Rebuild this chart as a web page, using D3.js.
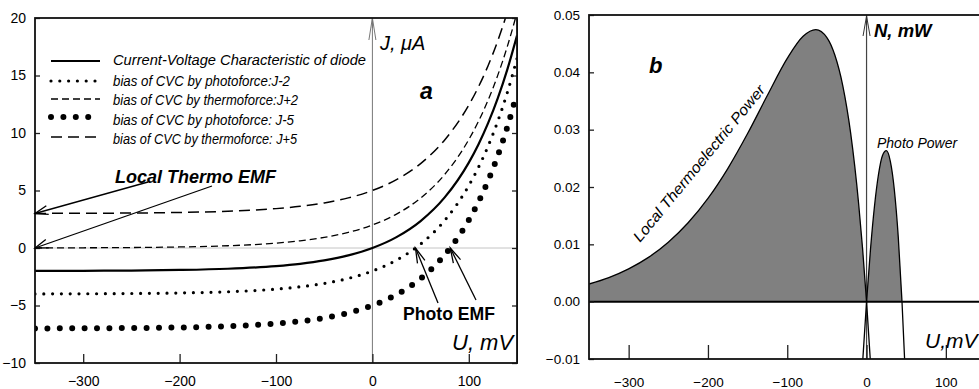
<!DOCTYPE html>
<html>
<head>
<meta charset="utf-8">
<script src="https://cdn.jsdelivr.net/npm/d3@7"></script>
<style>
body { margin: 0; background: #fff; }
svg text { font-family: "Liberation Sans", Arial, sans-serif; }
</style>
</head>
<body>
<div id="canvas"></div>
<script>
// panel a: current-voltage curves (U in mV, J in uA)
const uVolt = [-350, -300, -250, -200, -150, -100, -75, -50, -25, 0, 25, 50, 75, 100, 110, 120, 130, 140, 150];
const jDiode = [-1.991, -1.981, -1.959, -1.910, -1.805, -1.576, -1.375, -1.079, -0.643, 0, 0.947, 2.342, 4.398, 7.427, 9.006, 10.854, 13.01, 15.53, 18.47];
const jPhoto2 = [-3.991, -3.981, -3.959, -3.910, -3.805, -3.576, -3.375, -3.079, -2.643, -2, -1.053, 0.342, 2.398, 5.427, 7.006, 8.854, 11.01, 13.53, 16.47];
const jThermo2 = [0.009, 0.019, 0.041, 0.090, 0.195, 0.424, 0.625, 0.921, 1.357, 2, 2.947, 4.342, 6.398, 9.427, 11.006, 12.854, 15.01, 17.53, 20.47];
const jPhoto5 = [-6.991, -6.981, -6.959, -6.910, -6.805, -6.576, -6.375, -6.079, -5.643, -5, -4.053, -2.658, -0.602, 2.427, 4.006, 5.854, 8.01, 10.53, 13.47];
const jThermo5 = [3.009, 3.019, 3.041, 3.090, 3.195, 3.424, 3.625, 3.921, 4.357, 5, 5.947, 7.342, 9.398, 12.427, 14.006, 15.854, 18.01, 20.53, 23.47];
const legendLabels = [
  "Current-Voltage Characteristic of diode",
  "bias of CVC by photoforce:J-2",
  "bias of CVC by thermoforce:J+2",
  "bias of CVC by photoforce: J-5",
  "bias of CVC by thermoforce: J+5"
];
const jTicks = [-10, -5, 0, 5, 10, 15, 20];
const uTicks = [-300, -200, -100, 0, 100];
// voltages where the shifted curves cross J = 0
const photoEmf = [44.7, 80.8];

// panel b: power curves (N in mW)
const uThermoPow = [-350, -325, -300, -275, -250, -225, -200, -175, -150, -125, -100, -80, -64, -50, -40, -30, -20, -10, -5, 0, 4.7];
const nThermoPow = [0.00308, 0.00421, 0.00573, 0.00773, 0.01037, 0.01376, 0.01801, 0.02322, 0.02932, 0.0360, 0.04244, 0.04629, 0.04745, 0.04606, 0.04302, 0.03769, 0.02934, 0.01713, 0.00925, 0, -0.0101];
const uPhotoPow = [-4.7, 0, 5, 10, 15, 20, 25, 30, 35, 40, 44.7, 48];
const nPhotoPow = [-0.01006, 0, 0.00919, 0.01665, 0.02214, 0.02546, 0.02633, 0.02447, 0.01957, 0.01126, 0, -0.01007];
const nTicks = [-0.01, 0, 0.01, 0.02, 0.03, 0.04, 0.05];

const width = 979, height = 389;
const svg = d3.select("#canvas").append("svg")
  .attr("width", width).attr("height", height);

function drawArrow(g, x1, y1, x2, y2, len, half, color, w) {
  g.append("line").attr("x1", x1).attr("y1", y1).attr("x2", x2).attr("y2", y2)
    .attr("stroke", color).attr("stroke-width", w);
  const a = Math.atan2(y2 - y1, x2 - x1);
  const bx = x2 - len * Math.cos(a), by = y2 - len * Math.sin(a);
  const p1 = [bx + half * Math.sin(a), by - half * Math.cos(a)];
  const p2 = [bx - half * Math.sin(a), by + half * Math.cos(a)];
  g.append("path").attr("d", `M${p1}L${x2},${y2}L${p2}`)
    .attr("fill", "none").attr("stroke", color).attr("stroke-width", w);
}

// ---------- panel a ----------
const a = { left: 35, right: 517, top: 18, bottom: 363 };
const xA = d3.scaleLinear().domain([-350, 150]).range([a.left, a.right]);
const yA = d3.scaleLinear().domain([-10, 20]).range([a.bottom, a.top]);
const gA = svg.append("g");

svg.append("clipPath").attr("id", "clipA").append("rect")
  .attr("x", a.left).attr("y", a.top).attr("width", a.right - a.left).attr("height", a.bottom - a.top);

gA.append("line").attr("x1", a.left).attr("x2", a.right).attr("y1", yA(0)).attr("y2", yA(0))
  .attr("stroke", "#c4c4c4").attr("stroke-width", 1);
gA.append("line").attr("x1", xA(0)).attr("x2", xA(0)).attr("y1", a.top).attr("y2", a.bottom)
  .attr("stroke", "#777").attr("stroke-width", 1);
drawArrow(gA, xA(0), a.top + 10, xA(0), a.top, 22, 3.5, "#777", 1);

const seriesA = [
  { vals: jDiode, w: 2.2, dash: null, cap: "butt" },
  { vals: jPhoto2, w: 3.2, dash: "0 8.8", cap: "round" },
  { vals: jThermo2, w: 1.3, dash: "7 4", cap: "butt" },
  { vals: jPhoto5, w: 6, dash: "0 12.4", cap: "round" },
  { vals: jThermo5, w: 1.5, dash: "11 6", cap: "butt" }
];
const lineA = d3.line().x(d => xA(d[0])).y(d => yA(d[1])).curve(d3.curveMonotoneX);
const curvesA = gA.append("g").attr("clip-path", "url(#clipA)");
seriesA.forEach(s => {
  curvesA.append("path")
    .datum(uVolt.map((u, i) => [u, s.vals[i]]))
    .attr("d", lineA)
    .attr("fill", "none").attr("stroke", "#000")
    .attr("stroke-width", s.w).attr("stroke-linecap", s.cap)
    .attr("stroke-dasharray", s.dash);
});

// legend
const legRows = [61, 81, 99, 117, 137];
const legBase = [65, 86, 105, 125, 144];
const legWidth = [253, 177, 185, 181, 184];
seriesA.forEach((s, i) => {
  gA.append("line").attr("x1", 51).attr("x2", 100).attr("y1", legRows[i]).attr("y2", legRows[i])
    .attr("stroke", "#000").attr("stroke-width", s.w).attr("stroke-linecap", s.cap)
    .attr("stroke-dasharray", s.dash);
  gA.append("text").attr("x", 113).attr("y", legBase[i])
    .attr("font-size", i === 0 ? 15.5 : 14).attr("font-style", "italic")
    .attr("textLength", legWidth[i]).attr("lengthAdjust", "spacingAndGlyphs")
    .text(legendLabels[i]);
});

// axes a
const axA = gA.append("g").attr("transform", `translate(0,${a.bottom})`)
  .call(d3.axisBottom(xA).tickValues(uTicks).tickSizeInner(-9).tickSizeOuter(0).tickPadding(13));
const ayA = gA.append("g").attr("transform", `translate(${a.left},0)`)
  .call(d3.axisLeft(yA).tickValues(jTicks).tickSizeInner(-5).tickSizeOuter(0).tickPadding(9));
gA.append("g").attr("transform", `translate(${a.right},0)`)
  .call(d3.axisRight(yA).tickValues(jTicks).tickSizeInner(-5).tickSizeOuter(0).tickFormat(""));
[axA, ayA].forEach(ax => {
  ax.select(".domain").remove();
  ax.selectAll("text").attr("font-size", 14).attr("font-family", "Liberation Sans, Arial, sans-serif");
});
gA.selectAll(".tick line").attr("stroke", "#222").attr("stroke-width", 1.3);
gA.append("rect").attr("x", a.left).attr("y", a.top).attr("width", a.right - a.left).attr("height", a.bottom - a.top)
  .attr("fill", "none").attr("stroke", "#111").attr("stroke-width", 1.8);

// annotations a
gA.append("text").attr("x", 380).attr("y", 50).attr("font-size", 20).attr("font-style", "italic").text("J, \u03BCA");
gA.append("text").attr("x", 420).attr("y", 99).attr("font-size", 23).attr("font-style", "italic").attr("font-weight", "bold").text("a");
gA.append("text").attr("x", 115).attr("y", 183).attr("font-size", 18).attr("font-style", "italic").attr("font-weight", "bold").text("Local Thermo EMF");
drawArrow(gA, 148, 182, xA(-350), yA(3), 13, 4.5, "#000", 1.3);
drawArrow(gA, 212, 186, xA(-350), yA(0), 13, 4.5, "#000", 1.3);
gA.append("text").attr("x", 403).attr("y", 320).attr("font-size", 19).attr("font-weight", "bold")
  .attr("textLength", 92).attr("lengthAdjust", "spacingAndGlyphs").text("Photo EMF");
drawArrow(gA, 438, 303, xA(photoEmf[0]), yA(0), 15, 4, "#000", 1.3);
drawArrow(gA, 476, 300, xA(photoEmf[1]), yA(0), 15, 4, "#000", 1.3);
gA.append("text").attr("x", 452).attr("y", 350).attr("font-size", 22).attr("font-style", "italic").text("U, mV");

// ---------- panel b ----------
const b = { left: 589, right: 985.5, top: 15, bottom: 359 };
const xB = d3.scaleLinear().domain([-350, 150]).range([b.left, b.right]);
const yB = d3.scaleLinear().domain([-0.01, 0.05]).range([b.bottom, b.top]);
const gB = svg.append("g");

svg.append("clipPath").attr("id", "clipB").append("rect")
  .attr("x", b.left).attr("y", b.top).attr("width", b.right - b.left).attr("height", b.bottom - b.top);

const thermo = uThermoPow.map((u, i) => [u, nThermoPow[i]]);
const photo = uPhotoPow.map((u, i) => [u, nPhotoPow[i]]);
const areaB = d3.area().x(d => xB(d[0])).y0(yB(0)).y1(d => yB(d[1])).curve(d3.curveMonotoneX);
const lineB = d3.line().x(d => xB(d[0])).y(d => yB(d[1])).curve(d3.curveMonotoneX);
const plotB = gB.append("g").attr("clip-path", "url(#clipB)");
plotB.append("path").datum(thermo.filter(d => d[0] <= 0)).attr("d", areaB).attr("fill", "#808080");
plotB.append("path").datum(photo.filter(d => d[0] >= 0 && d[1] >= 0)).attr("d", areaB).attr("fill", "#808080");

plotB.append("line").attr("x1", xB(0)).attr("x2", xB(0)).attr("y1", b.top).attr("y2", b.bottom)
  .attr("stroke", "#444").attr("stroke-width", 1.2);
plotB.append("line").attr("x1", b.left).attr("x2", b.right).attr("y1", yB(0)).attr("y2", yB(0))
  .attr("stroke", "#000").attr("stroke-width", 2);
[thermo, photo].forEach(d => {
  plotB.append("path").datum(d).attr("d", lineB)
    .attr("fill", "none").attr("stroke", "#000").attr("stroke-width", 1.3);
});
drawArrow(gB, xB(0), b.top + 10, xB(0), b.top + 1, 20, 3.5, "#333", 1);

const axB = gB.append("g").attr("transform", `translate(0,${b.bottom})`)
  .call(d3.axisBottom(xB).tickValues(uTicks).tickSizeInner(-14).tickSizeOuter(0).tickPadding(18));
const ayB = gB.append("g").attr("transform", `translate(${b.left},0)`)
  .call(d3.axisLeft(yB).tickValues(nTicks).tickFormat(d3.format(".2f")).tickSizeInner(-5).tickSizeOuter(0).tickPadding(9));
[axB, ayB].forEach(ax => {
  ax.select(".domain").remove();
  ax.selectAll("text").attr("font-size", 13.5).attr("font-family", "Liberation Sans, Arial, sans-serif");
});
gB.selectAll(".tick line").attr("stroke", "#222").attr("stroke-width", 1.3);
gB.append("rect").attr("x", b.left).attr("y", b.top).attr("width", b.right - b.left).attr("height", b.bottom - b.top)
  .attr("fill", "none").attr("stroke", "#111").attr("stroke-width", 1.8);

gB.append("text").attr("x", 874).attr("y", 37).attr("font-size", 18.5).attr("font-style", "italic").attr("font-weight", "bold").text("N, mW");
gB.append("text").attr("x", 649).attr("y", 73).attr("font-size", 22).attr("font-style", "italic").attr("font-weight", "bold").text("b");
gB.append("text").attr("transform", "translate(640,243) rotate(-50.5)")
  .attr("font-size", 15).attr("font-style", "italic")
  .attr("textLength", 198).attr("lengthAdjust", "spacingAndGlyphs").text("Local Thermoelectric Power");
gB.append("text").attr("x", 877).attr("y", 148).attr("font-size", 14).attr("font-style", "italic").text("Photo Power");
gB.append("text").attr("x", 925).attr("y", 348).attr("font-size", 21).attr("font-style", "italic").text("U,mV");
</script>
</body>
</html>
